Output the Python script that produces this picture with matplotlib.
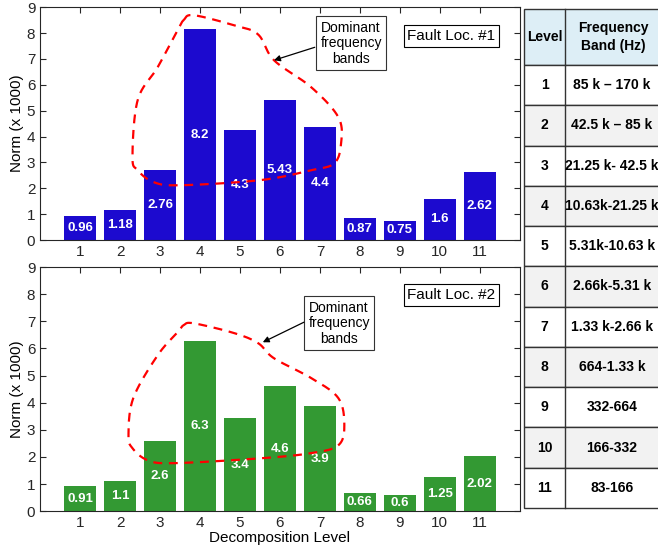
import numpy as np
import matplotlib.pyplot as plt
from matplotlib.patches import Rectangle

plt.rcParams['font.family'] = ['Liberation Sans', 'DejaVu Sans']

# data
levels = np.arange(1, 12)
norm_loc1 = [0.94, 1.17, 2.72, 8.15, 4.27, 5.43, 4.38, 0.87, 0.75, 1.6, 2.62]
labels_loc1 = ['0.96', '1.18', '2.76', '8.2', '4.3', '5.43', '4.4', '0.87', '0.75', '1.6', '2.62']
norm_loc2 = [0.91, 1.1, 2.58, 6.27, 3.42, 4.6, 3.87, 0.66, 0.6, 1.25, 2.02]
labels_loc2 = ['0.91', '1.1', '2.6', '6.3', '3.4', '4.6', '3.9', '0.66', '0.6', '1.25', '2.02']

table_levels = [str(i) for i in range(1, 12)]
table_bands = ['85 k \u2013 170 k', '42.5 k \u2013 85 k', '21.25 k- 42.5 k', '10.63k-21.25 k',
               '5.31k-10.63 k', '2.66k-5.31 k', '1.33 k-2.66 k', '664-1.33 k',
               '332-664', '166-332', '83-166']

# dashed outline around dominant bands (data coords)
blob1_x = [3.59, 3.84, 4.85, 5.45, 5.85, 6.78, 7.46, 7.53, 7.36, 6.78, 5.52, 3.51, 2.84, 2.44, 2.31, 2.44, 2.94, 3.44]
blob1_y = [8.50, 8.69, 8.30, 7.95, 6.95, 5.91, 4.75, 3.75, 2.97, 2.70, 2.32, 2.12, 2.24, 2.70, 3.21, 5.41, 6.68, 8.11]
blob2_x = [3.59, 3.84, 4.85, 5.45, 5.85, 6.78, 7.46, 7.61, 7.46, 6.78, 5.52, 3.34, 2.69, 2.31, 2.21, 2.33, 2.94, 3.44]
blob2_y = [6.86, 6.93, 6.57, 6.20, 5.64, 4.91, 4.17, 3.17, 2.43, 2.14, 1.95, 1.77, 1.88, 2.32, 2.80, 4.17, 5.75, 6.60]


def smooth_closed(x, y, n=20):
    # closed Catmull-Rom curve through the outline points
    p = np.column_stack([x, y])
    m = len(p)
    out = []
    for i in range(m):
        p0, p1, p2, p3 = p[i - 1], p[i], p[(i + 1) % m], p[(i + 2) % m]
        for t in np.linspace(0, 1, n, endpoint=False):
            t2, t3 = t * t, t * t * t
            out.append(0.5 * ((2 * p1) + (-p0 + p2) * t + (2 * p0 - 5 * p1 + 4 * p2 - p3) * t2
                              + (-p0 + 3 * p1 - 3 * p2 + p3) * t3))
    out.append(out[0])
    out = np.array(out)
    return out[:, 0], out[:, 1]


fig = plt.figure(figsize=(6.58, 5.52), dpi=100)
ax1 = fig.add_axes([0.061, 0.565, 0.729, 0.422])
ax2 = fig.add_axes([0.061, 0.074, 0.729, 0.442])

panels = [
    (ax1, norm_loc1, labels_loc1, '#1c0acf', 'Fault Loc. #1', blob1_x, blob1_y, (7.78, 7.61), (5.85, 6.95), (6.87, 7.45), (10.29, 7.88)),
    (ax2, norm_loc2, labels_loc2, '#339933', 'Fault Loc. #2', blob2_x, blob2_y, (7.48, 6.93), (5.57, 6.23), (6.6, 6.97), (10.29, 7.97)),
]

for ax, vals, labs, col, title, bx, by, tpos, apt, astart, fpos in panels:
    ax.bar(levels, vals, width=0.8, color=col, zorder=2)
    for xi, v, s in zip(levels, vals, labs):
        ax.text(xi, v / 2, s, color='white', fontsize=9.5, fontweight='bold',
                ha='center', va='center', zorder=3)
    sx, sy = smooth_closed(bx, by)
    ax.plot(sx, sy, '--', color='#ff0000', lw=1.6, dashes=(4, 3), zorder=4)
    ax.text(tpos[0], tpos[1], 'Dominant\nfrequency\nbands', fontsize=10, ha='center', va='center',
            linespacing=1.15, bbox=dict(boxstyle='square,pad=0.3', fc='white', ec='#333333', lw=0.8), zorder=5)
    ax.annotate('', xy=apt, xytext=astart,
                arrowprops=dict(arrowstyle='-|>', color='black', lw=0.9, mutation_scale=9,
                                shrinkA=0, shrinkB=0), zorder=5)
    ax.text(fpos[0], fpos[1], title, fontsize=11, ha='center', va='center',
            bbox=dict(boxstyle='square,pad=0.25', fc='white', ec='black', lw=0.8), zorder=5)
    ax.set_xlim(0, 12)
    ax.set_ylim(0, 9)
    ax.set_xticks(levels)
    ax.set_yticks(range(0, 10))
    ax.tick_params(direction='in', top=True, right=True, labelsize=11, colors='#262626', length=4)
    for sp in ax.spines.values():
        sp.set_color('#262626')
        sp.set_linewidth(0.8)
    ax.set_ylabel('Norm (x 1000)', fontsize=11, labelpad=2)

ax2.set_xlabel('Decomposition Level', fontsize=11, labelpad=1)

# frequency band table (right side, extends past the figure edge)
W, H = 658, 552
tab = fig.add_axes([0, 0, 1, 1], zorder=-1)
tab.set_xlim(0, W)
tab.set_ylim(H, 0)
tab.axis('off')
x0, xm, x1 = 524, 565, 661
ytop, yhead = 9, 65
rowh = (508 - yhead) / 11
tab.add_patch(Rectangle((x0, ytop), x1 - x0, yhead - ytop, fc='#ddeef6', ec='#333333', lw=1))
tab.plot([xm, xm], [ytop, yhead], color='#333333', lw=1)
tab.text((x0 + xm) / 2, (ytop + yhead) / 2, 'Level', fontsize=10, fontweight='bold', ha='center', va='center')
tab.text((xm + x1) / 2, (ytop + yhead) / 2, 'Frequency\nBand (Hz)', fontsize=10, fontweight='bold',
         ha='center', va='center', linespacing=1.3)
for i, (lv, band) in enumerate(zip(table_levels, table_bands)):
    y = yhead + i * rowh
    fc = '#f2f2f2' if i % 2 == 1 else 'white'
    tab.add_patch(Rectangle((x0, y), x1 - x0, rowh, fc=fc, ec='#333333', lw=1))
    tab.plot([xm, xm], [y, y + rowh], color='#333333', lw=1)
    tab.text((x0 + xm) / 2, y + rowh / 2, lv, fontsize=10, fontweight='bold', ha='center', va='center')
    tab.text((xm + x1) / 2 - 1, y + rowh / 2, band, fontsize=10, fontweight='bold', ha='center', va='center')

fig.savefig('out.png', dpi=100)
